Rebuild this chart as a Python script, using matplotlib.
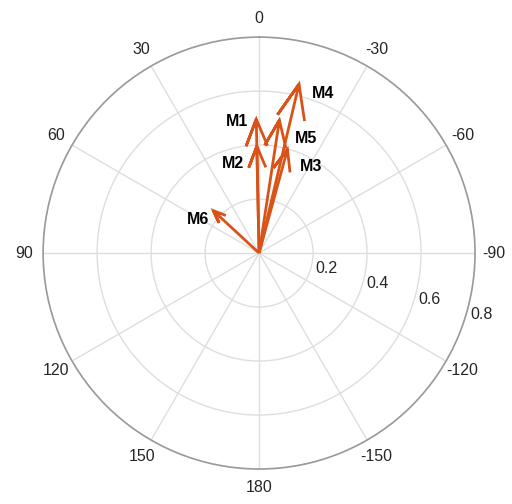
import numpy as np
import matplotlib.pyplot as plt

plt.rcParams['font.family'] = ['Liberation Sans', 'DejaVu Sans']

# vectors: magnitude and direction (degrees, counter-clockwise from north)
names = ['M1', 'M2', 'M3', 'M4', 'M5', 'M6']
magnitude = [0.496, 0.396, 0.398, 0.643, 0.498, 0.231]
direction = [1.2, 1.2, -15.3, -13.3, -8.7, 47.2]

# label offsets from each arrow tip, in points
label_dx = [-14, -17, 17, 17, 19, -11]
label_dy = [-1.5, -12.5, -12.5, -7, -13.5, -6]

r_ticks = [0.2, 0.4, 0.6, 0.8]
theta_ticks = [0, 30, 60, 90, 120, 150, 180, -150, -120, -90, -60, -30]

arrow_color = '#D95319'

fig = plt.figure(figsize=(5.12, 5.04), dpi=100)
ax = fig.add_axes([0.084, 0.0694, 0.844, 0.857], projection='polar')
ax.set_theta_zero_location('N')
ax.set_theta_direction(1)

# compass-style arrows: shaft plus two barbs
for name, m, d, dx, dy in zip(names, magnitude, direction, label_dx, label_dy):
    z = m * np.exp(1j * np.deg2rad(d))
    pts = np.array([0, 1, 0.8 + 0.08j, 1, 0.8 - 0.08j]) * z
    ax.plot(np.mod(np.angle(pts), 2 * np.pi), np.abs(pts), color=arrow_color, lw=2,
            solid_joinstyle='miter', solid_capstyle='butt')
    ax.annotate(name, (np.deg2rad(d), m), xytext=(dx, dy), textcoords='offset points',
                ha='center', va='center', fontsize=11.5, fontweight='bold', color='black')

ax.set_rlim(0, 0.8)
ax.set_rticks(r_ticks)
ax.set_yticklabels([])
for r in r_ticks:
    ax.annotate(f'{r:g}', (np.deg2rad(-106.5), r), xytext=(3, 0), textcoords='offset points',
                ha='left', va='center', fontsize=11.5, color='#262626')

ax.set_xticks(np.deg2rad(np.mod(theta_ticks, 360)))
ax.set_xticklabels([str(t) for t in theta_ticks], fontsize=11.5, color='#262626')
ax.set_thetalim(0, 2 * np.pi)
ax.tick_params(axis='x', pad=3)

ax.grid(color='#dedede', lw=1)
ax.spines['polar'].set_color('#9a9a9a')
ax.spines['polar'].set_linewidth(1.2)

fig.savefig('out.png', dpi=100)
